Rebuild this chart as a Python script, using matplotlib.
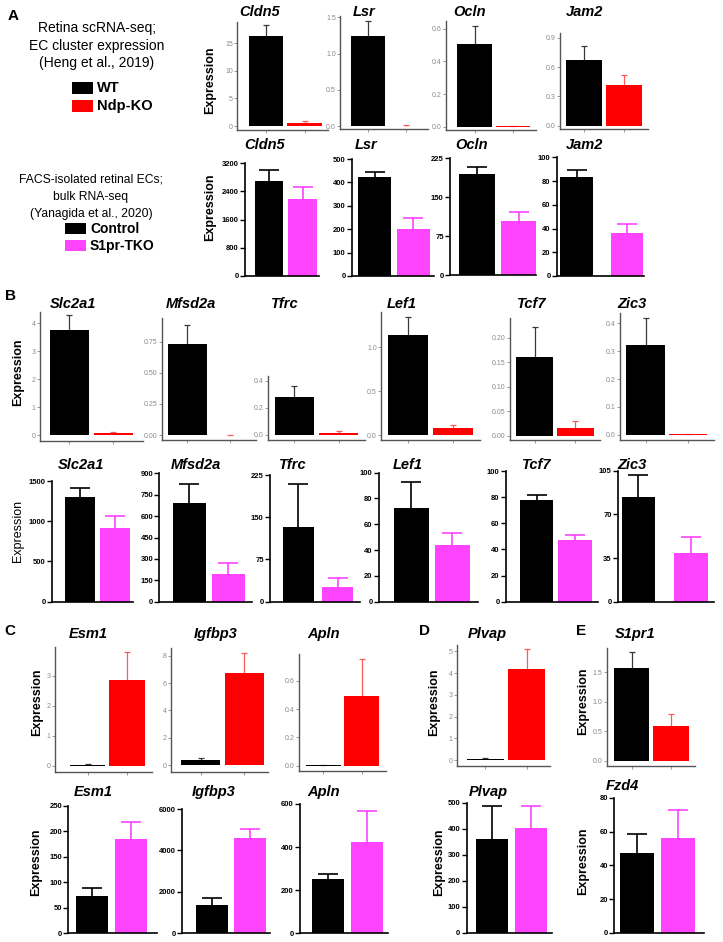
import matplotlib
matplotlib.use("Agg")
import matplotlib.pyplot as plt
from matplotlib.patches import Rectangle

W, H = 723, 942
plt.rcParams["font.family"] = ["Liberation Sans", "DejaVu Sans"]

BLACK = "#000000"
RED = "#ff0000"
MAGENTA = "#ff44ff"

# ---- data ----
a1_genes = ["Cldn5", "Lsr", "Ocln", "Jam2"]
a1_wt = [16.2, 1.25, 0.507, 0.67]
a1_wt_err = [2.0, 0.205, 0.113, 0.15]
a1_ko = [0.6, 0.004, 0.002, 0.42]
a1_ko_err = [0.25, 0.006, 0.003, 0.10]

a2_genes = ["Cldn5", "Lsr", "Ocln", "Jam2"]
a2_ctrl = [2704, 422, 194.6, 83.3]
a2_ctrl_err = [303, 21, 14, 6.1]
a2_tko = [2176, 201, 104, 36]
a2_tko_err = [357, 46, 17, 7.9]

b1_genes = ["Slc2a1", "Mfsd2a", "Tfrc", "Lef1", "Tcf7", "Zic3"]
b1_wt = [3.75, 0.729, 0.282, 1.14, 0.161, 0.321]
b1_wt_err = [0.55, 0.155, 0.080, 0.20, 0.061, 0.096]
b1_ko = [0.06, 0.002, 0.012, 0.076, 0.015, 0.002]
b1_ko_err = [0.04, 0.002, 0.018, 0.038, 0.016, 0.003]

b2_genes = ["Slc2a1", "Mfsd2a", "Tfrc", "Lef1", "Tcf7", "Zic3"]
b2_ctrl = [1306, 690, 133, 72.9, 77.7, 84.1]
b2_ctrl_err = [112, 135, 75.6, 19.7, 4.1, 17.4]
b2_tko = [913, 194, 25.6, 44, 47.5, 38.8]
b2_tko_err = [157, 79, 17, 9, 3.3, 12.8]

c1_genes = ["Esm1", "Igfbp3", "Apln", "Plvap", "S1pr1"]
c1_wt = [0.035, 0.35, 0.002, 0.045, 1.576]
c1_wt_err = [0.02, 0.2, 0.002, 0.03, 0.261]
c1_ko = [2.86, 6.73, 0.494, 4.2, 0.593]
c1_ko_err = [0.92, 1.47, 0.257, 0.9, 0.193]

c2_genes = ["Esm1", "Igfbp3", "Apln", "Plvap", "Fzd4"]
c2_ctrl = [73, 1367, 250.6, 361.5, 47.5]
c2_ctrl_err = [15, 323, 24.4, 125.5, 10.9]
c2_tko = [185.5, 4618, 423.6, 401.5, 56.4]
c2_tko_err = [33.5, 421, 143.4, 85.5, 16.5]

# ---- layout (pixel boxes: left, top, right, bottom) ----
a1_boxes = [(237, 22, 328, 130), (340, 16, 428, 129), (446, 21, 536, 130), (560, 33, 648, 129)]
a1_ylims = [(-0.72, 18.8), (-0.041, 1.52), (-0.02, 0.648), (-0.034, 0.949)]
a1_ticks = [[0, 5, 10, 15], [0, 0.5, 1.0, 1.5], [0, 0.2, 0.4, 0.6], [0, 0.3, 0.6, 0.9]]
a1_fmt = ["{:.0f}", "{:.1f}", "{:.1f}", "{:.1f}"]
a1_xlims = [(0.25, 2.6), (0.25, 2.6), (0.25, 2.6), (0.4, 2.6)]
a1_titles = [(239, 12.5), (353, 12.5), (453, 12.5), (566, 12.5)]

a2_boxes = [(245, 163.3, 319, 276), (352, 159, 434, 276), (450, 158.3, 536, 275), (557, 157.3, 644, 276)]
a2_ylims = [(0, 3200), (0, 500), (0, 225), (0, 100)]
a2_ticks = [[0, 800, 1600, 2400, 3200], [0, 100, 200, 300, 400, 500], [0, 75, 150, 225],
            [0, 20, 40, 60, 80, 100]]
a2_xlims = [(0.28, 2.49), (0.42, 2.53), (0.35, 2.42), (0.61, 2.34)]
a2_widths = [0.85, 0.85, 0.85, 0.65]
a2_titles = [(244, 145), (355, 145), (455, 145), (566, 145)]

b1_boxes = [(39.5, 311.7, 143, 441), (161.7, 318.3, 256, 440), (268, 375.7, 365, 440),
            (381, 311.7, 480, 440), (510, 318.3, 600, 440), (620, 313, 713.6, 440)]
b1_ylims = [(-0.215, 4.42), (-0.04, 0.938), (-0.037, 0.436), (-0.057, 1.406),
            (-0.0088, 0.2396), (-0.018, 0.436)]
b1_ticks = [[0, 1, 2, 3, 4], [0, 0.25, 0.5, 0.75], [0, 0.2, 0.4], [0, 0.5, 1.0],
            [0, 0.05, 0.1, 0.15, 0.2], [0, 0.1, 0.2, 0.3, 0.4]]
b1_fmt = ["{:.0f}", "{:.2f}", "{:.1f}", "{:.1f}", "{:.2f}", "{:.1f}"]
b1_xlims = [(0.32, 2.67), (0.4, 2.6), (0.4, 2.6), (0.4, 2.6), (0.4, 2.6), (0.4, 2.6)]
b1_titles = [(50, 304), (166, 304), (271, 304), (387, 304), (517, 304), (617, 304)]

b2_boxes = [(52, 481, 133, 601.7), (159.4, 473.3, 251.7, 601.7), (270, 475, 360, 601.7),
            (378.8, 472.7, 478, 601.7), (505.8, 471, 598, 601.7), (618, 470.7, 713.6, 601.7)]
b2_ylims = [(0, 1500), (0, 900), (0, 225), (0, 100), (0, 100), (0, 105)]
b2_ticks = [[0, 500, 1000, 1500], [0, 150, 300, 450, 600, 750, 900], [0, 75, 150, 225],
            [0, 20, 40, 60, 80, 100], [0, 20, 40, 60, 80, 100], [0, 35, 70, 105]]
b2_xlims = [(0.2, 2.51), (0.236, 2.6), (0.28, 2.57), (0.214, 2.63), (0.19, 2.6), (0.61, 2.43)]
b2_widths = [0.86, 0.85, 0.8, 0.85, 0.87, 0.64]
b2_titles = [(58, 465), (171, 465), (279, 465), (393, 465), (522, 465), (617, 465)]

c1_boxes = [(54.5, 646.7, 152.4, 771.7), (171, 648.3, 268, 771.7), (299, 653.9, 385.7, 771),
            (456.7, 645, 550, 765.7), (606.7, 648.3, 695, 765.7)]
c1_ylims = [(-0.2, 3.97), (-0.49, 8.56), (-0.0376, 0.789), (-0.26, 5.29), (-0.085, 1.905)]
c1_ticks = [[0, 1, 2, 3], [0, 2, 4, 6, 8], [0, 0.2, 0.4, 0.6], [0, 1, 2, 3, 4, 5], [0, 0.5, 1.0, 1.5]]
c1_fmt = ["{:.0f}", "{:.0f}", "{:.1f}", "{:.0f}", "{:.1f}"]
c1_xlims = [(0.15, 2.65), (0.32, 2.55), (0.36, 2.63), (0.3, 2.57), (0.37, 2.6)]
c1_titles = [(69, 634), (194, 634), (307, 634), (468, 634), (615, 634)]

c2_boxes = [(68.4, 806, 157, 933.3), (182.4, 809, 270, 933.3), (300.2, 804, 388, 933.3),
            (466.5, 802.7, 552, 932.7), (614.3, 798, 704.4, 932.7)]
c2_ylims = [(0, 250), (0, 6000), (0, 600), (0, 500), (0, 80)]
c2_ticks = [[0, 50, 100, 150, 200, 250], [0, 2000, 4000, 6000], [0, 200, 400, 600],
            [0, 100, 200, 300, 400, 500], [0, 20, 40, 60, 80]]
c2_xlims = [(0.38, 2.68), (0.22, 2.53), (0.29, 2.55), (0.35, 2.53), (0.44, 2.64)]
c2_widths = [0.84, 0.83, 0.83, 0.82, 0.82]
c2_titles = [(74, 792), (192, 792), (307, 792), (469, 792), (606, 786)]

fig = plt.figure(figsize=(W / 100, H / 100), dpi=100)


def px_axes(box):
    l, t, r, b = box
    return fig.add_axes([l / W, 1 - b / H, (r - l) / W, (b - t) / H])


def fig_text(x, y, s, **kw):
    fig.text(x / W, 1 - y / H, s, **kw)


def fig_rect(x, y, w, h, color):
    fig.add_artist(Rectangle((x / W, 1 - (y + h) / H), w / W, h / H,
                             transform=fig.transFigure, color=color, lw=0))


def upper_err(ax, x, y, e, color, capsize, lw):
    # error bar drawn upwards only, no cap at the bar top
    _, caps, _ = ax.errorbar(x, y, yerr=[[0], [e]], color=color, capsize=capsize,
                             elinewidth=lw, capthick=lw, zorder=1)
    for c in caps:
        if abs(c.get_ydata()[0] - y) < 1e-12:
            c.set_visible(False)


def gg_panel(box, vals, errs, ylim, ticks, fmt, xlim):
    ax = px_axes(box)
    colors = [BLACK, RED]
    ecols = ["#3a3a3a", "#ff5a5a"]
    for i in range(2):
        ax.bar(i + 1, vals[i], width=0.9, color=colors[i], zorder=2)
        upper_err(ax, i + 1, vals[i], errs[i], ecols[i], 2.5, 0.9)
    ax.set_xlim(*xlim)
    ax.set_ylim(*ylim)
    ax.set_yticks(ticks)
    ax.set_yticklabels([fmt.format(t) for t in ticks])
    ax.set_xticks([1, 2])
    ax.set_xticklabels([])
    ax.tick_params(axis="both", colors="#8a8a8a", length=2, width=0.6, labelsize=5, pad=1)
    for side in ["top", "right"]:
        ax.spines[side].set_visible(False)
    for side in ["left", "bottom"]:
        ax.spines[side].set_color("#555555")
        ax.spines[side].set_linewidth(1.0)
    ax.patch.set_visible(False)
    return ax


def prism_panel(box, vals, errs, ylim, ticks, xlim, width):
    ax = px_axes(box)
    colors = [BLACK, MAGENTA]
    for i in range(2):
        ax.bar(i + 1, vals[i], width=width, color=colors[i], zorder=2)
        upper_err(ax, i + 1, vals[i], errs[i], colors[i], 7, 1.2)
    ax.set_xlim(*xlim)
    ax.set_ylim(*ylim)
    ax.set_yticks(ticks)
    ax.set_yticklabels([str(t) for t in ticks], fontweight="bold")
    ax.set_xticks([])
    ax.tick_params(axis="y", colors="black", length=3.5, width=1.0, labelsize=5.5, pad=1)
    for side in ["top", "right"]:
        ax.spines[side].set_visible(False)
    for side in ["left", "bottom"]:
        ax.spines[side].set_color("black")
        ax.spines[side].set_linewidth(1.2)
    ax.patch.set_visible(False)
    return ax


def title(pos, gene):
    fig_text(pos[0], pos[1], gene, ha="left", va="center", fontsize=10.5,
             fontweight="bold", fontstyle="italic")


def ylabel(x, y, bold=True):
    fig_text(x, y, "Expression", ha="center", va="center", rotation=90, fontsize=9,
             fontweight="bold" if bold else "normal")


# row A1
for i, g in enumerate(a1_genes):
    gg_panel(a1_boxes[i], [a1_wt[i], a1_ko[i]], [a1_wt_err[i], a1_ko_err[i]],
             a1_ylims[i], a1_ticks[i], a1_fmt[i], a1_xlims[i])
    title(a1_titles[i], g)

# row A2
for i, g in enumerate(a2_genes):
    prism_panel(a2_boxes[i], [a2_ctrl[i], a2_tko[i]], [a2_ctrl_err[i], a2_tko_err[i]],
                a2_ylims[i], a2_ticks[i], a2_xlims[i], a2_widths[i])
    title(a2_titles[i], g)

# row B1
for i, g in enumerate(b1_genes):
    gg_panel(b1_boxes[i], [b1_wt[i], b1_ko[i]], [b1_wt_err[i], b1_ko_err[i]],
             b1_ylims[i], b1_ticks[i], b1_fmt[i], b1_xlims[i])
    title(b1_titles[i], g)

# row B2
for i, g in enumerate(b2_genes):
    prism_panel(b2_boxes[i], [b2_ctrl[i], b2_tko[i]], [b2_ctrl_err[i], b2_tko_err[i]],
                b2_ylims[i], b2_ticks[i], b2_xlims[i], b2_widths[i])
    title(b2_titles[i], g)

# rows C/D/E top
for i, g in enumerate(c1_genes):
    gg_panel(c1_boxes[i], [c1_wt[i], c1_ko[i]], [c1_wt_err[i], c1_ko_err[i]],
             c1_ylims[i], c1_ticks[i], c1_fmt[i], c1_xlims[i])
    title(c1_titles[i], g)

# rows C/D/E bottom
for i, g in enumerate(c2_genes):
    prism_panel(c2_boxes[i], [c2_ctrl[i], c2_tko[i]], [c2_ctrl_err[i], c2_tko_err[i]],
                c2_ylims[i], c2_ticks[i], c2_xlims[i], c2_widths[i])
    title(c2_titles[i], g)

# y labels
ylabel(210, 80)
ylabel(210, 207)
ylabel(18, 372)
ylabel(18, 531, bold=False)
ylabel(37, 702)
ylabel(36, 862)
ylabel(434, 702)
ylabel(439, 862)
ylabel(583, 701)
ylabel(583, 861)

# panel letters
for letter, (x, y) in zip("ABCDE", [(13, 16), (11, 296), (10, 631), (424, 631), (581, 631)]):
    fig_text(x, y, letter, ha="center", va="center", fontsize=11, fontweight="bold")

# dataset descriptions and legends
for y, s in zip([28, 46, 63], ["Retina scRNA-seq;", "EC cluster expression", "(Heng et al., 2019)"]):
    fig_text(97, y, s, ha="center", va="center", fontsize=10)
fig_rect(72, 82, 20.5, 11.5, BLACK)
fig_rect(72, 100, 20.5, 11.5, RED)
fig_text(97, 88, "WT", ha="left", va="center", fontsize=10.5, fontweight="bold")
fig_text(97, 106, "Ndp-KO", ha="left", va="center", fontsize=10.5, fontweight="bold")

for y, s in zip([180, 197, 213.5], ["FACS-isolated retinal ECs;", "bulk RNA-seq",
                                   "(Yanagida et al., 2020)"]):
    fig_text(91, y, s, ha="center", va="center", fontsize=8.7)
fig_rect(65, 223.5, 20.5, 10.5, BLACK)
fig_rect(65, 240.5, 20.5, 10.5, MAGENTA)
fig_text(90, 229, "Control", ha="left", va="center", fontsize=10, fontweight="bold")
fig_text(90, 246, "S1pr-TKO", ha="left", va="center", fontsize=10, fontweight="bold")

fig.savefig("out.png", dpi=100)
